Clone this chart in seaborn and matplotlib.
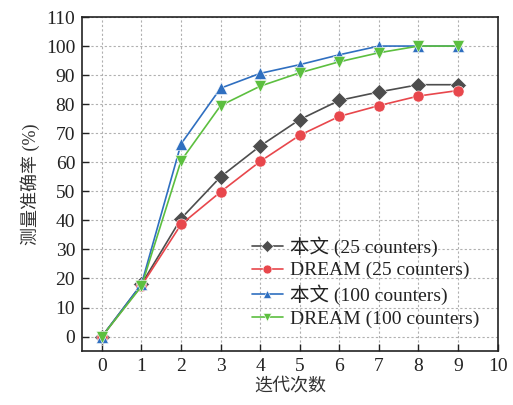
import numpy as np
import pandas as pd
import matplotlib
matplotlib.use("Agg")
import matplotlib.pyplot as plt
import seaborn as sns

# Data
iterations = [0, 1, 2, 3, 4, 5, 6, 7, 8, 9]
ours_25 = [0, 18.0, 40.6, 55.0, 65.6, 74.7, 81.3, 84.2, 86.7, 86.7]
dream_25 = [0, 17.5, 38.6, 49.8, 60.3, 69.3, 75.8, 79.5, 82.8, 84.7]
ours_100 = [0, 18.0, 66.3, 85.5, 90.6, 93.6, 97.0, 100, 100, 100]
dream_100 = [0, 17.3, 60.5, 79.5, 86.2, 90.8, 94.6, 97.7, 100, 100]
series_names = ["本文 (25 counters)", "DREAM (25 counters)",
                "本文 (100 counters)", "DREAM (100 counters)"]

sns.set_theme(style="ticks")
plt.rcParams["font.family"] = ["Liberation Serif", "Noto Sans CJK SC"]

frames = []
for name, vals in zip(series_names, [ours_25, dream_25, ours_100, dream_100]):
    frames.append(pd.DataFrame({"iter": iterations, "acc": vals, "series": name}))
df = pd.concat(frames, ignore_index=True)

palette = dict(zip(series_names, ["#4d4d4d", "#e8474c", "#2f6fc0", "#5cbf3f"]))
markers = dict(zip(series_names, ["D", "o", "^", "v"]))

fig, ax = plt.subplots(figsize=(5.13, 4.05), dpi=100)
sns.lineplot(data=df, x="iter", y="acc", hue="series", style="series",
             palette=palette, markers=markers, dashes=False,
             markersize=8, linewidth=1.2, markeredgewidth=0.4, ax=ax)

ax.set_xlim(-0.5, 10)
ax.set_ylim(-5, 110)
ax.set_xticks(range(0, 11))
ax.set_yticks(range(0, 111, 10))
ax.grid(True, linestyle=(0, (2, 2)), color="#b0b0b0", linewidth=0.8)
ax.tick_params(direction="in", labelsize=14, length=5, width=1,
               colors="#222222", pad=5)
for s in ax.spines.values():
    s.set_linewidth(1.2)
    s.set_color("#222222")

ax.set_xlabel("迭代次数", fontsize=13, labelpad=2, color="#333333")
ax.set_ylabel("测量准确率 (%)", fontsize=13, labelpad=4, color="#333333")

leg = ax.legend(loc="lower right", bbox_to_anchor=(0.99, 0.03), frameon=False,
                fontsize=14, handlelength=1.6, handletextpad=0.4,
                labelspacing=0.25, borderpad=0.2, markerscale=0.8)
for t in leg.get_texts():
    t.set_color("#222222")

fig.subplots_adjust(left=0.16, right=0.97, top=0.958, bottom=0.133)
fig.savefig("out.png", dpi=100)
